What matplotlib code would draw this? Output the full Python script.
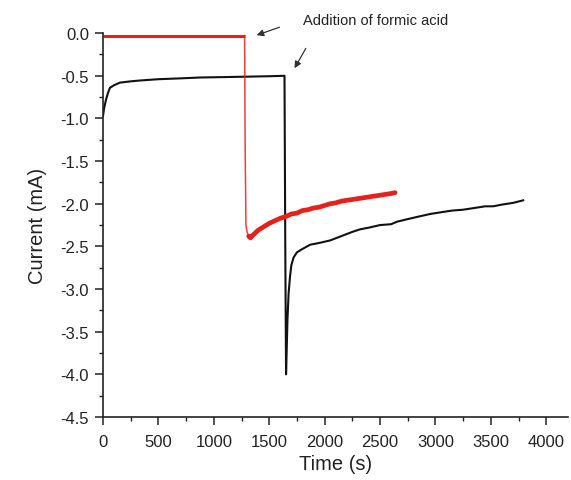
import numpy as np
import matplotlib.pyplot as plt
from matplotlib.ticker import MultipleLocator

plt.rcParams['font.family'] = ['Liberation Sans', 'DejaVu Sans']

# black curve (time s, current mA)
t_black = [0, 10, 27, 45, 63, 100, 153, 250, 334, 500, 700, 876, 1100, 1300, 1500, 1638,
           1645, 1652, 1658, 1665, 1675, 1688, 1700, 1720, 1750, 1800, 1870, 1950, 2050,
           2150, 2250, 2320, 2400, 2500, 2600, 2655, 2750, 2850, 2953, 3050, 3150, 3250,
           3350, 3450, 3521, 3600, 3700, 3792]
i_black = [-0.97, -0.88, -0.78, -0.70, -0.64, -0.61, -0.58, -0.565, -0.555, -0.54, -0.53,
           -0.52, -0.515, -0.51, -0.505, -0.50,
           -2.5, -4.0, -3.7, -3.35, -3.05, -2.85, -2.72, -2.63, -2.57, -2.53, -2.48, -2.46,
           -2.43, -2.38, -2.33, -2.30, -2.28, -2.25, -2.24, -2.21, -2.18, -2.15, -2.12,
           -2.10, -2.08, -2.07, -2.05, -2.03, -2.03, -2.01, -1.99, -1.96]

# red curve: baseline, drop after the addition, then slow recovery
t_red_flat = [0, 500, 1000, 1278]
i_red_flat = [-0.03, -0.03, -0.03, -0.03]
t_red_drop = [1278, 1282, 1290, 1300, 1315]
i_red_drop = [-0.03, -1.2, -2.25, -2.33, -2.38]
t_red = [1315, 1330, 1360, 1400, 1450, 1500, 1550, 1600, 1650, 1700, 1750, 1800,
         1850, 1900, 1950, 2000, 2050, 2100, 2150, 2200, 2250, 2300, 2350, 2400, 2450,
         2500, 2550, 2600, 2636]
i_red = [-2.38, -2.40, -2.36, -2.31, -2.27, -2.23, -2.20, -2.17, -2.15, -2.12,
         -2.11, -2.08, -2.07, -2.05, -2.04, -2.02, -2.00, -1.99, -1.97, -1.96, -1.95,
         -1.94, -1.93, -1.92, -1.91, -1.90, -1.89, -1.88, -1.87]

fig = plt.figure(figsize=(5.71, 4.81), dpi=100)
ax = fig.add_axes([0.1804, 0.131, 0.815, 0.798])

red = '#e8201c'
ax.plot(t_black, i_black, color='#111111', lw=1.5)
ax.plot(t_red_flat, i_red_flat, color=red, lw=2.2, solid_capstyle='butt')
ax.plot(t_red_drop, i_red_drop, color=red, lw=1.1, alpha=0.85)
ax.plot(t_red, i_red, color=red, lw=3.4, solid_capstyle='round')

ax.set_xlim(0, 4200)
ax.set_ylim(-4.5, 0.0)
ax.xaxis.set_major_locator(MultipleLocator(500))
ax.xaxis.set_minor_locator(MultipleLocator(250))
ax.yaxis.set_major_locator(MultipleLocator(0.5))
ax.yaxis.set_minor_locator(MultipleLocator(0.25))
ax.yaxis.set_major_formatter(plt.FormatStrFormatter('%.1f'))

for s in ['top', 'right']:
    ax.spines[s].set_visible(False)
for s in ['left', 'bottom']:
    ax.spines[s].set_linewidth(1.2)
    ax.spines[s].set_color('#222222')

ax.tick_params(which='major', direction='out', length=6, width=1.1, labelsize=12, pad=4,
               colors='#222222')
ax.tick_params(which='minor', direction='out', length=3, width=1.0, colors='#222222')
ax.tick_params(axis='x', which='major', pad=6)

ax.set_xlabel('Time (s)', fontsize=14.5, labelpad=4, color='#222222')
ax.set_ylabel('Current (mA)', fontsize=14.5, labelpad=10, color='#222222')

ax.annotate('', xy=(1363, -0.035), xytext=(1616, 0.08),
            arrowprops=dict(arrowstyle='-|>', color='#333333', lw=0.9, mutation_scale=10),
            annotation_clip=False)
ax.annotate('', xy=(1716, -0.44), xytext=(1843, -0.15),
            arrowprops=dict(arrowstyle='-|>', color='#333333', lw=0.9, mutation_scale=10),
            annotation_clip=False)
ax.text(1806, 0.16, 'Addition of formic acid', fontsize=10.5, va='center', ha='left',
        color='#222222')

fig.savefig('out.png', dpi=100)
